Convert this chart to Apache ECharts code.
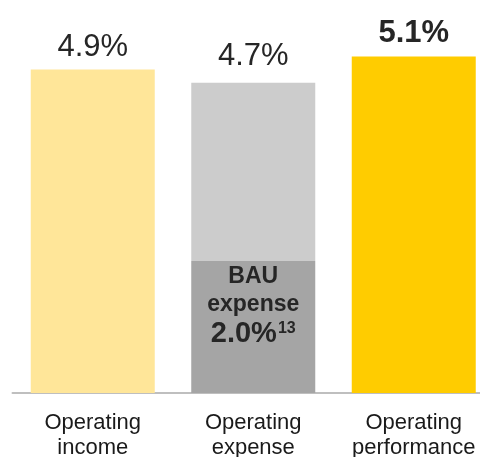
<!DOCTYPE html>
<html>
<head>
<meta charset="utf-8">
<script src="https://cdn.jsdelivr.net/npm/echarts@6/dist/echarts.min.js"></script>
<style>html,body{margin:0;padding:0;background:#fff}#c{width:480px;height:457px}</style>
</head>
<body>
<div id="c"></div>
<script>
var categories = ['Operating\nincome', 'Operating\nexpense', 'Operating\nperformance'];
var totals = [4.9, 4.7, 5.1];
var totalLabels = ['4.9%', '4.7%', '5.1%'];
var bauExpense = 2.0;
var bauLabel = '2.0%';
var bauFootnote = '13';

var FONT = '"Liberation Sans", Arial, sans-serif';
var baseColors = ['#FFE699', '#A5A5A5', '#FFCC00'];

var baseData = totals.map(function (v, i) {
  var isExp = i === 1;
  var item = {
    value: isExp ? bauExpense : v,
    itemStyle: { color: baseColors[i] }
  };
  if (isExp) {
    item.label = {
      show: true,
      position: 'insideTop',
      distance: 2,
      formatter: '{b|BAU}\n{b|expense}\n{p|' + bauLabel + '}{s|' + bauFootnote + '}',
      rich: {
        b: { fontFamily: FONT, fontWeight: 'bold', fontSize: 23, lineHeight: 28, color: '#262626' },
        p: { fontFamily: FONT, fontWeight: 'bold', fontSize: 29, lineHeight: 30, color: '#262626' },
        s: { fontFamily: FONT, fontWeight: 'bold', fontSize: 16, lineHeight: 30, color: '#262626', verticalAlign: 'top', padding: [2, 0, 0, 1] }
      }
    };
  } else {
    item.label = {
      show: true,
      position: 'top',
      distance: 7,
      formatter: totalLabels[i],
      fontFamily: FONT,
      fontSize: 31,
      fontWeight: i === 2 ? 'bold' : 'normal',
      color: '#262626'
    };
  }
  return item;
});

var upperData = totals.map(function (v, i) {
  if (i !== 1) return '-';
  return {
    value: +(v - bauExpense).toFixed(2),
    itemStyle: { color: '#CCCCCC' },
    label: {
      show: true,
      position: 'top',
      distance: 11,
      formatter: totalLabels[i],
      fontFamily: FONT,
      fontSize: 31,
      color: '#262626'
    }
  };
});

var chart = echarts.init(document.getElementById('c'), null, { renderer: 'canvas' });
chart.setOption({
  animation: false,
  grid: { left: 12.5, right: -14, top: 30, bottom: 64, containLabel: false, outerBoundsMode: 'none' },
  xAxis: {
    type: 'category',
    data: categories,
    axisLine: { lineStyle: { color: '#BFBFBF', width: 2 } },
    axisTick: { show: false },
    axisLabel: { fontFamily: FONT, fontSize: 22, lineHeight: 25, color: '#1a1a1a', margin: 17, interval: 0, hideOverlap: false }
  },
  yAxis: { type: 'value', min: 0, max: 5.5, show: false, splitLine: { show: false } },
  series: [
    { type: 'bar', stack: 'a', barWidth: 124, data: baseData },
    { type: 'bar', stack: 'a', barWidth: 124, data: upperData }
  ]
});
</script>
</body>
</html>
